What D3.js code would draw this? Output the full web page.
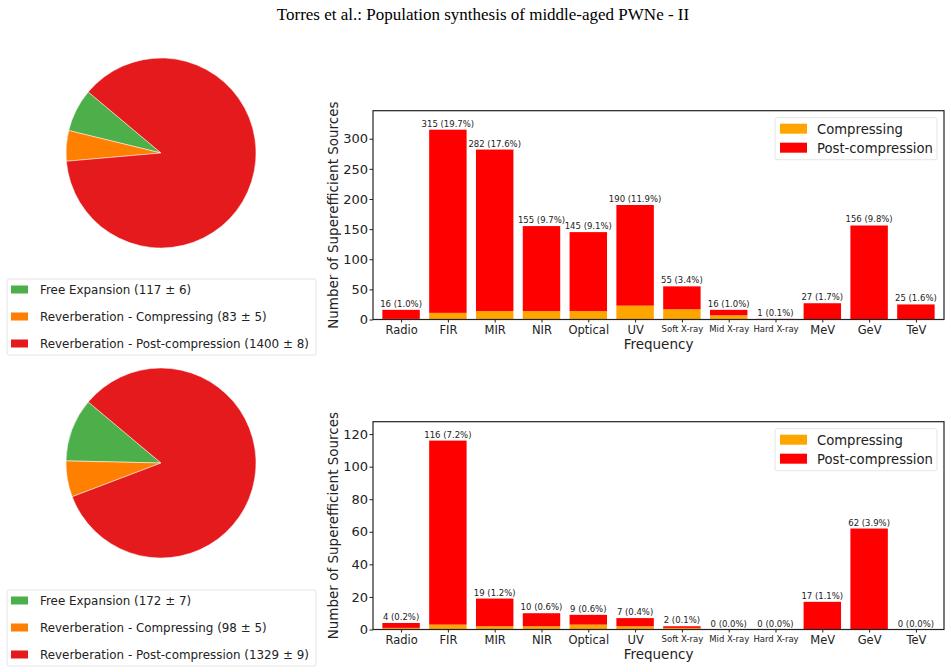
<!DOCTYPE html>
<html>
<head>
<meta charset="utf-8">
<script src="https://cdn.jsdelivr.net/npm/d3@7"></script>
<style>
  body { margin: 0; background: #fff; }
  svg { font-family: "DejaVu Sans", sans-serif; }
</style>
</head>
<body>
<div id="chart"></div>
<script>
// Frequency bands
var categories = ["Radio", "FIR", "MIR", "NIR", "Optical", "UV", "Soft X-ray", "Mid X-ray", "Hard X-ray", "MeV", "GeV", "TeV"];

// Top panel: totals, compressing part, percentages
var totalTop = [16, 315, 282, 155, 145, 190, 55, 16, 1, 27, 156, 25];
var compTop = [1, 11, 14, 14, 14, 23, 17, 7, 0, 0, 0, 0];
var pctTop = [1.0, 19.7, 17.6, 9.7, 9.1, 11.9, 3.4, 1.0, 0.1, 1.7, 9.8, 1.6];

// Bottom panel
var totalBottom = [4, 116, 19, 10, 9, 7, 2, 0, 0, 17, 62, 0];
var compBottom = [1, 3, 2, 2, 3, 2, 1, 0, 0, 0, 0, 0];
var pctBottom = [0.2, 7.2, 1.2, 0.6, 0.6, 0.4, 0.1, 0.0, 0.0, 1.1, 3.9, 0.0];

// Pie charts
var pieLabels = ["Free Expansion", "Reverberation - Compressing", "Reverberation - Post-compression"];
var pieTop = [117, 83, 1400];
var pieTopErr = [6, 5, 8];
var pieBottom = [172, 98, 1329];
var pieBottomErr = [7, 5, 9];
var pieColors = ["#4daf4a", "#ff7f00", "#e41a1c"];

var barColors = {comp: "#ffa500", post: "#ff0000"};

var svg = d3.select("#chart").append("svg")
    .attr("width", 951)
    .attr("height", 672);

// Title
svg.append("text")
    .attr("x", 483)
    .attr("y", 20)
    .attr("text-anchor", "middle")
    .style("font-family", "'Liberation Serif', serif")
    .style("font-size", "17px")
    .text("Torres et al.: Population synthesis of middle-aged PWNe - II");

function drawPie(values, errs, cx, cy, legendTop) {
    var pie = d3.pie().sort(null)
        .startAngle(Math.PI / 2 - 140 * Math.PI / 180)
        .endAngle(Math.PI / 2 - 140 * Math.PI / 180 - 2 * Math.PI);
    var arc = d3.arc().innerRadius(0).outerRadius(95);

    var g = svg.append("g").attr("transform", `translate(${cx}, ${cy})`);
    g.selectAll("path")
        .data(pie(values))
        .enter()
        .append("path")
        .attr("d", arc)
        .attr("fill", (d, i) => pieColors[i])
        .attr("stroke", "#fff")
        .attr("stroke-width", 0.5);

    // Legend box
    var lg = svg.append("g").attr("transform", `translate(7, ${legendTop})`);
    lg.append("rect")
        .attr("width", 309)
        .attr("height", 76)
        .attr("rx", 2)
        .attr("fill", "#fff")
        .attr("stroke", "#ddd")
        .attr("stroke-width", 0.8);
    pieLabels.forEach(function(lab, i) {
        var yy = 10 + i * 27;
        lg.append("rect")
            .attr("x", 4)
            .attr("y", yy - 3.5)
            .attr("width", 17)
            .attr("height", 8)
            .attr("fill", pieColors[i]);
        lg.append("text")
            .attr("x", 33)
            .attr("y", yy + 4.5)
            .style("font-size", "11.9px")
            .attr("fill", "#222")
            .text(`${lab} (${values[i]} \u00b1 ${errs[i]})`);
    });
}

drawPie(pieTop, pieTopErr, 161, 153, 279);
drawPie(pieBottom, pieBottomErr, 161, 463, 590);

function drawBars(total, comp, pct, top, bottom, yTicks) {
    var left = 373, right = 944;
    var xScale = d3.scaleLinear().domain([-0.6, 11.6]).range([left, right]);
    var yScale = d3.scaleLinear().domain([0, d3.max(total) * 1.1]).range([bottom, top]);
    var bw = (xScale(0.4) - xScale(-0.4));

    var g = svg.append("g");

    // compressing
    g.selectAll(".comp")
        .data(categories)
        .enter()
        .append("rect")
        .attr("x", (d, i) => xScale(i) - bw / 2)
        .attr("y", (d, i) => yScale(comp[i]))
        .attr("width", bw)
        .attr("height", (d, i) => yScale(0) - yScale(comp[i]))
        .attr("fill", barColors.comp);

    // post-compression
    g.selectAll(".post")
        .data(categories)
        .enter()
        .append("rect")
        .attr("x", (d, i) => xScale(i) - bw / 2)
        .attr("y", (d, i) => yScale(total[i]))
        .attr("width", bw)
        .attr("height", (d, i) => yScale(comp[i]) - yScale(total[i]))
        .attr("fill", barColors.post);

    // value labels
    g.selectAll(".lab")
        .data(categories)
        .enter()
        .append("text")
        .attr("x", (d, i) => xScale(i))
        .attr("y", (d, i) => yScale(total[i]) - 3)
        .attr("text-anchor", "middle")
        .style("font-size", "8.5px")
        .attr("fill", "#222")
        .text((d, i) => `${total[i]} (${pct[i].toFixed(1)}%)`);

    // axes
    var xAxis = d3.axisBottom(xScale)
        .tickValues(d3.range(categories.length))
        .tickFormat(i => categories[i])
        .tickSize(3)
        .tickSizeOuter(0);
    var xg = svg.append("g")
        .attr("transform", `translate(0, ${bottom})`)
        .call(xAxis);
    xg.select(".domain").remove();
    xg.selectAll(".tick line").attr("stroke", "#222");
    xg.selectAll(".tick text")
        .attr("fill", "#222")
        .style("font-family", "'DejaVu Sans', sans-serif")
        .style("font-size", (i) => categories[i].indexOf("X-ray") >= 0 ? "8.5px" : "11.5px")
        .attr("dy", "0.71em")
        .attr("y", 6);

    var yAxis = d3.axisLeft(yScale)
        .tickValues(yTicks)
        .tickSize(3.5)
        .tickSizeOuter(0);
    var yg = svg.append("g")
        .attr("transform", `translate(${left}, 0)`)
        .call(yAxis);
    yg.select(".domain").remove();
    yg.selectAll(".tick line").attr("stroke", "#222");
    yg.selectAll(".tick text")
        .attr("fill", "#222")
        .style("font-family", "'DejaVu Sans', sans-serif")
        .style("font-size", "13px")
        .attr("x", -5);

    // frame
    svg.append("rect")
        .attr("x", left)
        .attr("y", top)
        .attr("width", right - left)
        .attr("height", bottom - top)
        .attr("fill", "none")
        .attr("stroke", "#222")
        .attr("stroke-width", 1.2);

    // axis labels
    svg.append("text")
        .attr("x", (left + right) / 2)
        .attr("y", bottom + 29)
        .attr("text-anchor", "middle")
        .style("font-size", "13.5px")
        .attr("fill", "#222")
        .text("Frequency");

    svg.append("text")
        .attr("transform", `translate(338, ${(top + bottom) / 2}) rotate(-90)`)
        .attr("text-anchor", "middle")
        .style("font-size", "13.5px")
        .attr("fill", "#222")
        .text("Number of Superefficient Sources");

    // legend
    var lg = svg.append("g").attr("transform", `translate(775, ${top + 7})`);
    lg.append("rect")
        .attr("width", 162)
        .attr("height", 42)
        .attr("rx", 2)
        .attr("fill", "#fff")
        .attr("stroke", "#ddd")
        .attr("stroke-width", 0.8);
    [["Compressing", barColors.comp], ["Post-compression", barColors.post]].forEach(function(e, i) {
        var yy = 11 + i * 19;
        lg.append("rect")
            .attr("x", 5)
            .attr("y", yy - 5)
            .attr("width", 27)
            .attr("height", 10)
            .attr("fill", e[1]);
        lg.append("text")
            .attr("x", 42)
            .attr("y", yy + 5)
            .style("font-size", "13.2px")
            .attr("fill", "#222")
            .text(e[0]);
    });
}

drawBars(totalTop, compTop, pctTop, 110.7, 319.5, [0, 50, 100, 150, 200, 250, 300]);
drawBars(totalBottom, compBottom, pctBottom, 421.7, 629.5, [0, 20, 40, 60, 80, 100, 120]);
</script>
</body>
</html>
